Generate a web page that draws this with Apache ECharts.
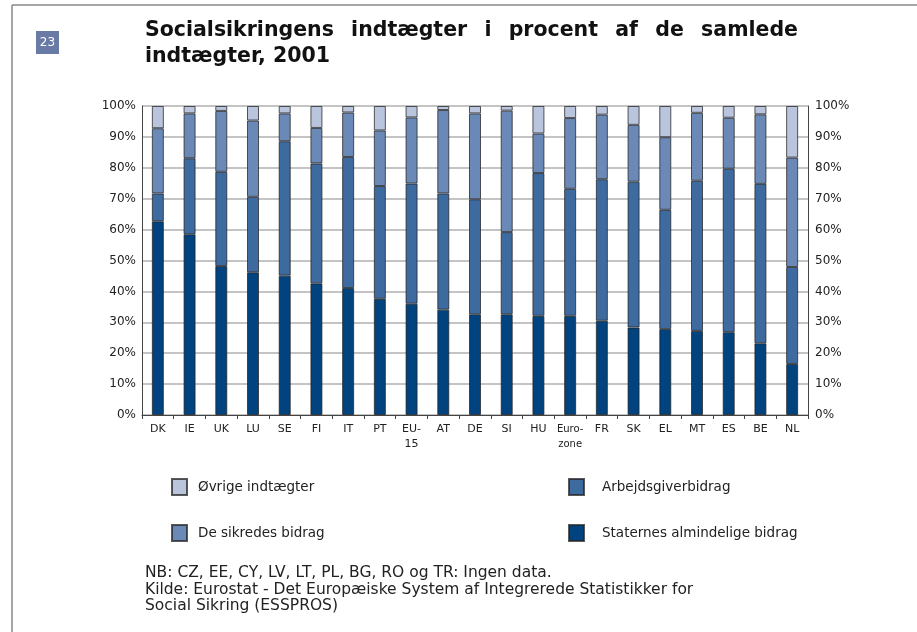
<!DOCTYPE html>
<html>
<head>
<meta charset="utf-8">
<script src="https://cdn.jsdelivr.net/npm/echarts@6/dist/echarts.min.js"></script>
<style>
  html, body { margin: 0; padding: 0; background: #fff; }
  #chart { width: 917px; height: 632px; }
</style>
</head>
<body>
<div id="chart"></div>
<script>
const categories = ['DK', 'IE', 'UK', 'LU', 'SE', 'FI', 'IT', 'PT', 'EU-15', 'AT', 'DE', 'SI', 'HU', 'Euro-zone', 'FR', 'SK', 'EL', 'MT', 'ES', 'BE', 'NL'];
const staternes = [62.7, 58.5, 48.2, 46.2, 45.1, 42.6, 41.1, 37.6, 36.0, 34.1, 32.6, 32.6, 32.1, 32.1, 30.5, 28.3, 27.8, 27.2, 26.8, 23.2, 16.5];
const arbejdsgiver = [9.0, 24.6, 30.5, 24.4, 43.5, 38.8, 42.4, 36.5, 38.9, 37.6, 37.2, 26.6, 46.2, 41.1, 45.8, 47.2, 38.6, 48.6, 52.9, 51.6, 31.4];
const sikredes = [21.1, 14.5, 19.7, 24.7, 9.0, 11.5, 14.4, 18.0, 21.4, 27.0, 27.8, 39.3, 12.8, 22.9, 20.9, 18.4, 23.5, 22.0, 16.5, 22.5, 35.4];
const oevrige = [7.2, 2.4, 1.6, 4.7, 2.4, 7.1, 2.1, 7.9, 3.7, 1.3, 2.4, 1.5, 8.9, 3.9, 2.8, 6.1, 10.1, 2.2, 3.8, 2.7, 16.7];

const titleLine1 = 'Socialsikringens indtægter i procent af de samlede';
const titleLine2 = 'indtægter, 2001';
const footnote = [
  'NB: CZ, EE, CY, LV, LT, PL, BG, RO og TR: Ingen data.',
  'Kilde: Eurostat - Det Europæiske System af Integrerede Statistikker for',
  'Social Sikring (ESSPROS)'
];

const chart = echarts.init(document.getElementById('chart'));

// justified first title line: spread words between x0 and x1
const titleFont = 'bold 20.5px "DejaVu Sans"';
const ctx = document.createElement('canvas').getContext('2d');
ctx.font = titleFont;
const words = titleLine1.split(' ');
const widths = words.map(w => ctx.measureText(w).width);
const x0 = 145, x1 = 798;
const gap = (x1 - x0 - widths.reduce((a, b) => a + b, 0)) / (words.length - 1);
let cx = x0;
const titleWords = words.map((w, i) => {
  const el = {
    type: 'text', left: cx, top: 20,
    style: { text: w, font: titleFont, fill: '#111' }
  };
  cx += widths[i] + gap;
  return el;
});

const mkSeries = (name, data, color) => ({
  name: name,
  type: 'bar',
  stack: 'total',
  barWidth: 12,
  data: data,
  itemStyle: { color: color, borderColor: 'rgba(35,35,35,0.75)', borderWidth: 1 },
  emphasis: { disabled: true }
});

const legendBase = {
  orient: 'vertical', top: 473, itemGap: 28,
  icon: 'rect', itemWidth: 15, itemHeight: 16,
  selectedMode: false
};
const legendFont = { fontFamily: 'DejaVu Sans', fontSize: 13.5, color: '#222' };

chart.setOption({
  animation: false,
  grid: { left: 142, right: 109, top: 106, bottom: 217 },
  legend: [
    Object.assign({}, legendBase, {
      left: 166, textStyle: Object.assign({ padding: [0, 0, 0, 6] }, legendFont),
      data: ['Øvrige indtægter', 'De sikredes bidrag']
    }),
    Object.assign({}, legendBase, {
      left: 563, textStyle: Object.assign({ padding: [0, 0, 0, 13] }, legendFont),
      data: ['Arbejdsgiverbidrag', 'Staternes almindelige bidrag']
    })
  ],
  xAxis: {
    type: 'category',
    data: categories,
    axisLine: { lineStyle: { color: '#444', width: 1 } },
    axisTick: { show: true, length: 4, lineStyle: { color: '#444' } },
    axisLabel: {
      margin: 7,
      fontFamily: 'DejaVu Sans',
      fontSize: 11,
      color: '#222',
      lineHeight: 15,
      interval: 0,
      formatter: v => v === 'Euro-zone' ? '{s|Euro-}\n{s|zone}' : v.replace('-', '-\n'),
      rich: { s: { fontSize: 10, fontFamily: 'DejaVu Sans', color: '#222', lineHeight: 15 } }
    }
  },
  yAxis: [
    {
      type: 'value', min: 0, max: 100, interval: 10,
      axisLine: { show: true, lineStyle: { color: '#444' } },
      axisTick: { show: false },
      axisLabel: { formatter: '{value}%', fontFamily: 'DejaVu Sans', fontSize: 12, color: '#222', margin: 6, padding: [4, 0, 0, 0] },
      splitLine: { lineStyle: { color: '#b0b0b0', width: 1.5 } }
    },
    {
      type: 'value', min: 0, max: 100, interval: 10, position: 'right',
      axisLine: { show: true, lineStyle: { color: '#444' } },
      axisTick: { show: false },
      axisLabel: { formatter: '{value}%', fontFamily: 'DejaVu Sans', fontSize: 12, color: '#222', margin: 7, padding: [4, 0, 0, 0] },
      splitLine: { show: false }
    }
  ],
  series: [
    mkSeries('Staternes almindelige bidrag', staternes, '#00437f'),
    mkSeries('Arbejdsgiverbidrag', arbejdsgiver, '#3d6a9f'),
    mkSeries('De sikredes bidrag', sikredes, '#6a89b7'),
    mkSeries('Øvrige indtægter', oevrige, '#b9c4dd')
  ],
  graphic: [
    { type: 'line', shape: { x1: 12, y1: 5, x2: 917, y2: 5 }, style: { stroke: '#888', lineWidth: 1.5 } },
    { type: 'line', shape: { x1: 12, y1: 5, x2: 12, y2: 632 }, style: { stroke: '#888', lineWidth: 1.5 } },
    { type: 'rect', shape: { x: 36, y: 31, width: 23, height: 23 }, style: { fill: '#6a7aa6' } },
    {
      type: 'text', x: 47.5, y: 42.5,
      style: { text: '23', font: '12px "DejaVu Sans"', fill: '#fff', align: 'center', verticalAlign: 'middle' }
    },
    ...titleWords,
    {
      type: 'text', left: 145, top: 46,
      style: { text: titleLine2, font: titleFont, fill: '#111' }
    },
    {
      type: 'text', left: 145, top: 565,
      style: { text: footnote.join('\n'), font: '15.5px "DejaVu Sans"', fill: '#222', lineHeight: 16.5 }
    }
  ]
});
</script>
</body>
</html>
